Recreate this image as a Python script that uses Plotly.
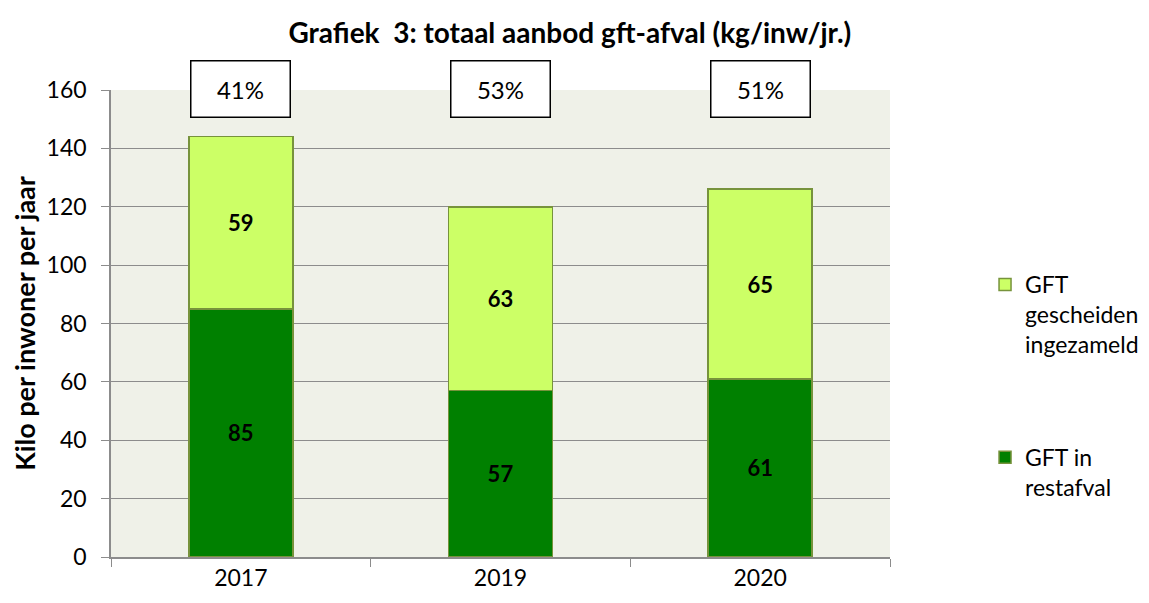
import plotly.graph_objects as go

years = ["2017", "2019", "2020"]
gft_restafval = [85, 57, 61]
gft_gescheiden = [59, 63, 65]
percentages = ["41%", "53%", "51%"]

FONT = "Lato, 'Open Sans', sans-serif"

fig = go.Figure()
fig.add_trace(go.Bar(
    x=years, y=gft_restafval, name="GFT in<br>restafval",
    marker=dict(color="#008000", line=dict(color="#77933C", width=1.5)),
    text=[str(v) for v in gft_restafval], textposition="inside",
    insidetextanchor="middle",
    textfont=dict(family=FONT, size=22, color="black", weight="bold"),
    legendgroup="a", legendrank=2,
))
fig.add_trace(go.Bar(
    x=years, y=gft_gescheiden, name="GFT<br>gescheiden<br>ingezameld",
    marker=dict(color="#CCFF66", line=dict(color="#77933C", width=1.5)),
    text=[str(v) for v in gft_gescheiden], textposition="inside",
    insidetextanchor="middle",
    textfont=dict(family=FONT, size=22, color="black", weight="bold"),
    legendgroup="b", legendrank=1,
))

for i, p in enumerate(percentages):
    fig.add_annotation(
        x=i, y=1.003, xref="x", yref="paper", text=p, showarrow=False,
        xanchor="center", yanchor="middle",
        font=dict(family=FONT, size=24, color="black"),
        bgcolor="white", bordercolor="black", borderwidth=1.5, borderpad=1,
        width=96, height=53,
    )

fig.update_layout(
    width=1149, height=603,
    barmode="stack", bargap=0.6,
    paper_bgcolor="white", plot_bgcolor="#EFF1E8",
    margin=dict(l=103, r=267, t=82, b=54, autoexpand=False),
    font=dict(family=FONT, size=23, color="black"),
    title=dict(text="<b>Grafiek  3: totaal aanbod gft-afval (kg/inw/jr.)</b>",
               x=0.489, xanchor="center", y=0.9585, yanchor="middle",
               font=dict(family=FONT, size=28, color="black")),
    legend=dict(x=1.122, xanchor="left", y=0.6296, yanchor="top",
                traceorder="grouped", tracegroupgap=80,
                font=dict(family=FONT, size=23, color="black"),
                valign="top", itemwidth=30),
    yaxis=dict(range=[0, 160], dtick=20, showgrid=True, gridcolor="#8C8C8C",
               gridwidth=1, showline=True, linecolor="#8C8C8C", linewidth=1.5,
               ticks="outside", ticklen=8, tickcolor="#8C8C8C", zeroline=False,
               ticklabelstandoff=10,
               title=dict(text="<b>Kilo per inwoner per jaar</b>", standoff=10,
                          font=dict(family=FONT, size=27)),
               tickfont=dict(family=FONT, size=23)),
    xaxis=dict(type="category", range=[-0.5, 2.5], showline=True,
               linecolor="#8C8C8C", linewidth=1.5,
               ticks="outside", ticklen=8, tickcolor="#8C8C8C",
               tickson="boundaries", tickfont=dict(family=FONT, size=23)),
)

fig.write_html("out.html")
